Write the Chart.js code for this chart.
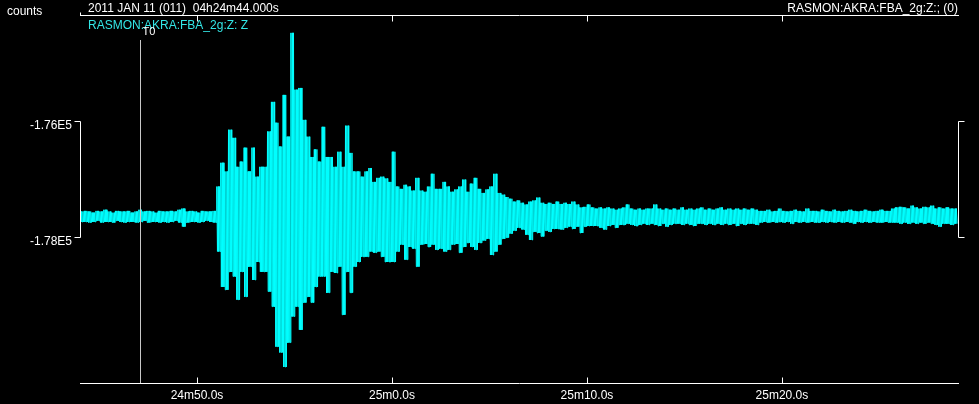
<!DOCTYPE html>
<html>
<head>
<meta charset="utf-8">
<script src="https://cdn.jsdelivr.net/npm/chart.js@4.4.1/dist/chart.umd.min.js"></script>
<style>
  html, body { margin: 0; padding: 0; background: #000; }
  #wrap { position: relative; width: 979px; height: 404px; }
</style>
</head>
<body>
<div id="wrap"><canvas id="seis"></canvas></div>
<script>
// time axis (seconds after 04h24m)
const startSec = 44;
const endSec = 89.03;
const binSec = 0.2;
const t0Sec = 47.08;
const timeTickValues = [50, 60, 70, 80];
const timeTickLabels = ['24m50.0s', '25m0.0s', '25m10.0s', '25m20.0s'];

// counts axis
const baseline = -177650;
const countTicks = [-176000, -178000];
const countTickLabels = ['-1.76E5', '-1.78E5'];

// peak excursion above / below baseline for each 0.2 s bin (counts)
const binUpper = [
  90,100,90,70,100,90,120,90,70,100,90,90,100,70,90,120,90,100,90,70,100,90,90,100,90,120,140,90,100,90,70,100,90,90,100,
  520,930,780,1500,1360,860,950,1190,780,1190,690,860,860,1470,1980,1620,1210,2100,1380,3170,2190,2220,1670,1380,
  1030,1160,950,1550,1030,1030,860,1120,860,1570,1100,780,780,690,780,840,600,670,690,660,600,1120,520,
  480,550,520,450,670,450,430,520,740,480,480,600,520,430,470,520,640,430,570,670,
  480,410,470,520,740,410,380,340,310,260,280,240,210,260,280,330,240,220,240,220,
  260,220,240,220,260,210,
  160,170,210,160,140,160,140,160,140,120,140,160,210,140,120,140,120,140,140,210,140,120,140,
  120,140,120,160,120,140,120,140,160,120,140,120,140,160,120,140,120,140,120,140,120,140,120,100,
  100,120,90,100,140,100,90,100,120,100,90,140,100,100,90,120,100,90,120,100,90,100,120,100,90,100,120,100,90,100,120,100,100,
  140,160,170,160,140,190,160,140,170,160,190,140,160,140,160,140,140
];
const binLower = [
  90,90,100,90,70,100,90,90,100,70,90,100,90,90,100,90,70,100,90,90,100,90,100,90,70,100,170,100,90,90,100,90,70,90,100,
  600,1210,1260,950,1030,1430,950,1380,860,1090,780,950,950,1290,1550,2240,2340,2590,2170,1720,1550,1950,1480,1380,
  1480,1210,1030,1030,1310,950,970,860,1690,950,1310,860,780,690,690,600,620,600,690,780,780,780,600,
  480,740,520,550,860,480,470,520,480,570,550,600,570,480,470,620,520,450,520,570,
  450,410,380,660,600,480,380,360,290,240,190,220,310,400,260,280,340,240,260,210,
  210,220,190,170,210,170,
  280,170,160,160,160,190,220,160,140,190,140,140,120,140,160,140,120,140,120,140,160,120,170,
  140,120,120,140,120,140,160,120,120,140,120,140,120,140,120,140,120,160,120,140,120,120,140,100,
  90,100,90,100,90,100,90,120,90,100,90,100,90,100,100,90,100,90,100,90,100,90,100,120,90,100,90,100,90,100,100,90,100,
  100,100,120,100,120,100,120,100,120,100,120,140,170,120,120,140,120
];

// each bin is swept three times (peak, trough, ...) so the trace reads as a solid band
const sweeps = 3;
const trace = [];
binUpper.forEach((up, i) => {
  const t = startSec + i * binSec;
  for (let k = 0; k < sweeps * 2; k++) {
    trace.push({
      x: t + binSec * (k + 0.5) / (sweeps * 2),
      y: k % 2 === 0 ? baseline + up : baseline - binLower[i],
    });
  }
});

const FONT = '"Liberation Sans", Arial, sans-serif';

const frame = {
  id: 'frame',
  afterDatasetsDraw(chart) {
    const { ctx, chartArea: a, scales: { x, y } } = chart;
    const seg = (x1, y1, x2, y2) => {
      ctx.beginPath();
      ctx.moveTo(x1, y1);
      ctx.lineTo(x2, y2);
      ctx.stroke();
    };
    ctx.save();
    ctx.lineWidth = 1;

    // T0 marker
    const tx = Math.round(x.getPixelForValue(t0Sec)) + 0.5;
    ctx.strokeStyle = '#c8c8c8';
    seg(tx, 40, tx, a.bottom);

    ctx.strokeStyle = '#ffffff';
    const top = a.top + 0.5;
    const bot = a.bottom + 0.5;
    seg(a.left, top, a.right + 1, top);
    seg(a.left + 0.5, top, a.left + 0.5, top - 3);
    seg(a.left, bot, a.right + 1, bot);
    timeTickValues.forEach(v => {
      const px = Math.round(x.getPixelForValue(v)) + 0.5;
      seg(px, top, px, top + 6);
      seg(px, bot, px, bot - 6);
    });

    // amplitude brackets
    const y1 = Math.round(y.getPixelForValue(countTicks[0])) + 0.5;
    const y2 = Math.round(y.getPixelForValue(countTicks[1])) + 0.5;
    const lx = a.left + 0.5;
    const rx = a.right + 0.5;
    seg(lx, y1, lx, y2);
    seg(lx - 6, y1, lx, y1);
    seg(lx - 6, y2, lx, y2);
    seg(rx, y1, rx, y2);
    seg(rx, y1, rx + 6, y1);
    seg(rx, y2, rx + 6, y2);

    // header texts
    ctx.font = '12px ' + FONT;
    ctx.textBaseline = 'alphabetic';
    ctx.fillStyle = '#ffffff';
    ctx.textAlign = 'left';
    ctx.fillText('counts', 7, 15);
    ctx.fillText('2011 JAN 11 (011)  04h24m44.000s', 88, 12);
    ctx.textAlign = 'right';
    ctx.fillText('RASMON:AKRA:FBA_2g:Z:; (0)', a.right, 12);
    ctx.textAlign = 'left';
    ctx.fillStyle = '#33e6e6';
    ctx.fillText('RASMON:AKRA:FBA_2g:Z: Z', 88, 29);
    ctx.fillStyle = '#ffffff';
    ctx.font = '11px ' + FONT;
    ctx.fillText('T0', tx + 2, 35);
    ctx.restore();
  }
};

new Chart(document.getElementById('seis'), {
  type: 'line',
  data: {
    datasets: [
      {
        data: trace,
        borderColor: '#00ffff',
        borderWidth: 1,
        pointRadius: 0,
        tension: 0,
      },
    ],
  },
  options: {
    responsive: true,
    maintainAspectRatio: false,
    animation: false,
    events: [],
    layout: { padding: { top: 15, right: 21, left: 0, bottom: 0 } },
    plugins: {
      legend: { display: false },
      tooltip: { enabled: false },
    },
    scales: {
      x: {
        type: 'linear',
        min: startSec,
        max: endSec,
        grid: { display: false },
        border: { display: false },
        afterBuildTicks: s => { s.ticks = timeTickValues.map(v => ({ value: v })); },
        afterFit: s => { s.height = 21; },
        ticks: {
          color: '#ffffff',
          font: { family: FONT, size: 12 },
          padding: -3,
          maxRotation: 0,
          autoSkip: false,
          callback: (v, i) => timeTickLabels[i],
        },
      },
      y: {
        type: 'linear',
        min: -180517,
        max: -174172,
        grid: { display: false },
        border: { display: false },
        afterBuildTicks: s => { s.ticks = countTicks.map(v => ({ value: v })); },
        afterFit: s => { s.width = 80; },
        ticks: {
          color: '#ffffff',
          font: { family: FONT, size: 12 },
          padding: 0,
          labelOffset: 5,
          autoSkip: false,
          callback: (v, i) => countTickLabels[i],
        },
      },
    },
  },
  plugins: [frame],
});
</script>
</body>
</html>
